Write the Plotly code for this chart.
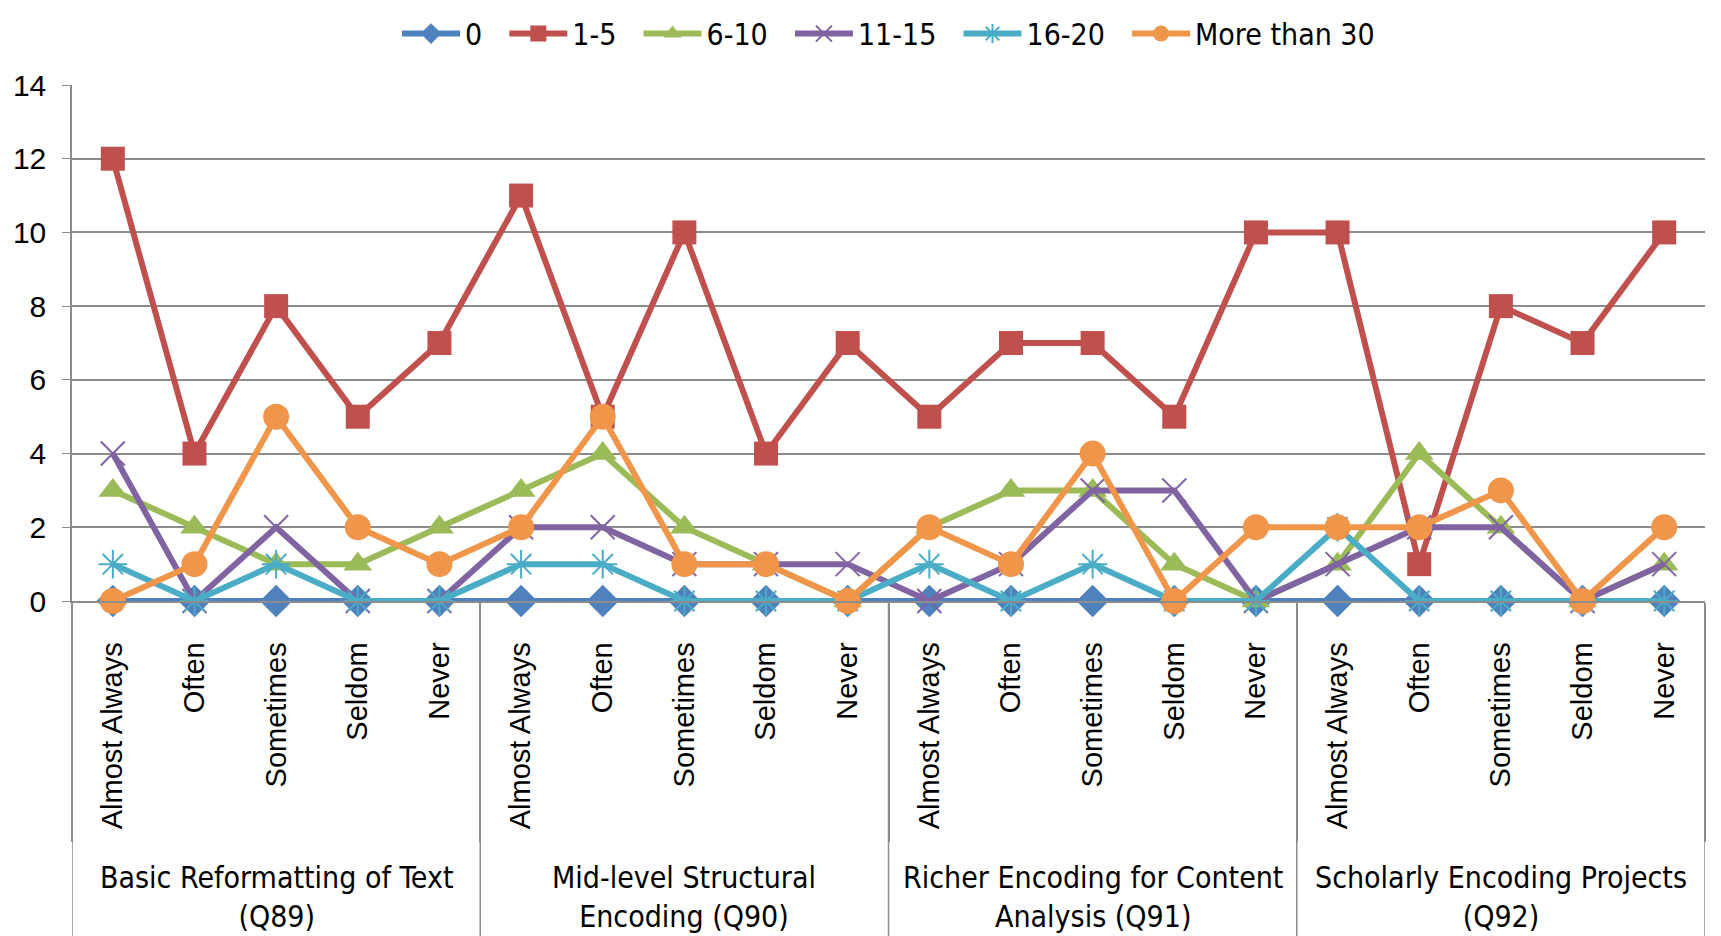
import plotly.graph_objects as go

## categories
groups = ['Basic Reformatting of Text<br>(Q89)',
          'Mid-level Structural<br>Encoding (Q90)',
          'Richer Encoding for Content<br>Analysis (Q91)',
          'Scholarly Encoding Projects<br>(Q92)']
answers = ['Almost Always', 'Often', 'Sometimes', 'Seldom', 'Never']

## series values (20 points each, 5 answers x 4 groups)
s_0 = [0, 0, 0, 0, 0, 0, 0, 0, 0, 0, 0, 0, 0, 0, 0, 0, 0, 0, 0, 0]
s_1_5 = [12, 4, 8, 5, 7, 11, 5, 10, 4, 7, 5, 7, 7, 5, 10, 10, 1, 8, 7, 10]
s_6_10 = [3, 2, 1, 1, 2, 3, 4, 2, 1, 0, 2, 3, 3, 1, 0, 1, 4, 2, 0, 1]
s_11_15 = [4, 0, 2, 0, 0, 2, 2, 1, 1, 1, 0, 1, 3, 3, 0, 1, 2, 2, 0, 1]
s_16_20 = [1, 0, 1, 0, 0, 1, 1, 0, 0, 0, 1, 0, 1, 0, 0, 2, 0, 0, 0, 0]
s_30 = [0, 1, 5, 2, 1, 2, 5, 1, 1, 0, 2, 1, 4, 0, 2, 2, 2, 3, 0, 2]

series_names = ['0', '1-5', '6-10', '11-15', '16-20', 'More than 30']

labels = answers * len(groups)
xs = list(range(len(labels)))

styles = [
    ('#4F81BD', 'diamond', 25),
    ('#C0504D', 'square', 24),
    ('#9BBB59', 'triangle-up', 25),
    ('#8064A2', 'x-thin-open', 24),
    ('#4BACC6', 'asterisk-open', 24),
    ('#F0964A', 'circle', 26),
]

narrow = 'Liberation Sans Narrow, Arial Narrow, DejaVu Sans Condensed, sans-serif'
regular = 'Liberation Sans, Arial, sans-serif'
grey = '#8C8C8C'

fig = go.Figure()
for i, (name, vals, (col, sym, sz)) in enumerate(zip(series_names,
                                      [s_0, s_1_5, s_6_10, s_11_15, s_16_20, s_30],
                                      styles)):
    mk = dict(symbol=sym, size=sz, color=col)
    if 'open' in sym:
        mk['line'] = dict(color=col, width=2)
    ## a little padding between legend entries, like Excel
    pad = '\u00a0\u00a0' if i < len(series_names) - 1 else ''
    fig.add_trace(go.Scatter(x=xs, y=vals, name=name + pad, mode='lines+markers',
                             line=dict(color=col, width=6), marker=mk,
                             cliponaxis=False))

## group dividers and group labels
n = len(answers)
edges = [i * n - 0.5 for i in range(len(groups) + 1)]
for e in edges:
    fig.add_shape(type='line', xref='x', yref='paper', x0=e, x1=e,
                  y0=0, y1=-0.7, line=dict(color=grey, width=1.5))
for i, g in enumerate(groups):
    fig.add_annotation(x=i * n + (n - 1) / 2, y=-0.574, xref='x', yref='paper',
                       yanchor='middle', xanchor='center',
                       text=g, showarrow=False,
                       font=dict(family=narrow, size=30, color='black'))

## page body has an 8px margin, so the figure is 8px smaller and shifted
fig.update_layout(
    width=1713, height=928,
    margin=dict(l=64, r=16, t=77, b=335, autoexpand=False),
    plot_bgcolor='white', paper_bgcolor='white',
    showlegend=True,
    legend=dict(orientation='h', x=0.5, xanchor='center', y=1.15, yanchor='top',
                font=dict(family=narrow, size=30, color='black'),
                itemwidth=58, tracegroupgap=0),
    xaxis=dict(range=[-0.5, len(labels) - 0.5], tickmode='array', tickvals=xs,
               ticktext=labels, tickangle=-90, ticks='', showgrid=False,
               showline=True, linecolor=grey, linewidth=1.5,
               ticklabelstandoff=28, automargin=False,
               tickfont=dict(family=regular, size=29, color='black'),
               minor=dict(tickmode='array', tickvals=edges, ticks='outside',
                          ticklen=239, tickcolor=grey, tickwidth=1.5, showgrid=False),
               zeroline=False),
    yaxis=dict(range=[0, 14], dtick=2, showgrid=True, gridcolor=grey, gridwidth=2,
               showline=True, linecolor=grey, linewidth=1.5, ticks='outside',
               ticklen=8, tickcolor=grey, zeroline=False, automargin=False,
               ticklabelstandoff=10,
               tickfont=dict(family=regular, size=30, color='black')),
)

fig.write_html('out.html')
